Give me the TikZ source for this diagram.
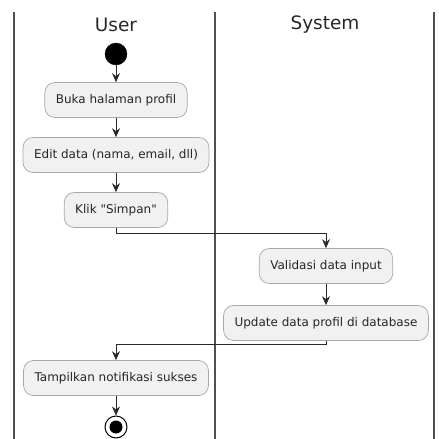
\documentclass[tikz,border=0pt]{standalone}
\usepackage{fontspec}
\setmainfont{DejaVu Sans}[Ligatures=TeXOff]
\usetikzlibrary{arrows.meta}
\definecolor{actfill}{HTML}{F1F1F1}
\definecolor{actline}{HTML}{A8A8A8}
\definecolor{laneline}{HTML}{505050}
\definecolor{flowline}{HTML}{282828}
\begin{document}
\begin{tikzpicture}[x=1pt,y=-1pt,
	act/.style={draw=actline, fill=actfill, line width=0.7pt, rounded corners=10pt, minimum height=35pt, inner xsep=11pt, font=\fontsize{12}{14}\selectfont, text=black!85},
	flow/.style={draw=flowline, line width=0.8pt, -{Stealth[length=9pt,width=8pt,inset=3pt]}},
	lanetitle/.style={font=\fontsize{18.5}{20}\selectfont, text=black!85},
	lane/.style={draw=laneline, line width=1.4pt}]

		\useasboundingbox (0,0) rectangle (439,439);

		\draw[lane] (14,12) -- (14,439);
		\draw[lane] (215,12) -- (215,439);
		\draw[lane] (434,12) -- (434,439);

		\node[lanetitle] (user) at (116,25) {User};
		\node[lanetitle] (system) at (325,25) {System};

		\node[circle, fill=black, draw=black, minimum size=22pt, inner sep=0pt] (start) at (116,54) {};

		\node[act] (buka) at (116,100) {Buka halaman profil};
		\node[act] (edit) at (116,155) {Edit data (nama, email, dll)};
		\node[act] (klik) at (116,210) {Klik "Simpan"};
		\node[act] (validasi) at (326,266) {Validasi data input};
		\node[act] (update) at (326,323) {Update data profil di database};
		\node[act] (tampil) at (116,378) {Tampilkan notifikasi sukses};

		\node[circle, draw=black, line width=1pt, fill=white, minimum size=22pt, inner sep=0pt] (stop) at (116,427) {};
		\node[circle, fill=black, minimum size=13pt, inner sep=0pt] (stopdot) at (stop) {};

		\coordinate (k1) at (116,233);
		\coordinate (k2) at (326,233);
		\coordinate (u1) at (326,344);
		\coordinate (u2) at (116,344);

		\draw[flow] (start) -- (buka);
		\draw[flow] (buka) -- (edit);
		\draw[flow] (edit) -- (klik);
		\draw[flow] (klik.south) -- (k1) -- (k2) -- (validasi.north);
		\draw[flow] (validasi) -- (update);
		\draw[flow] (update.south) -- (u1) -- (u2) -- (tampil.north);
		\draw[flow] (tampil) -- (stop);

	\end{tikzpicture}
\end{document}
